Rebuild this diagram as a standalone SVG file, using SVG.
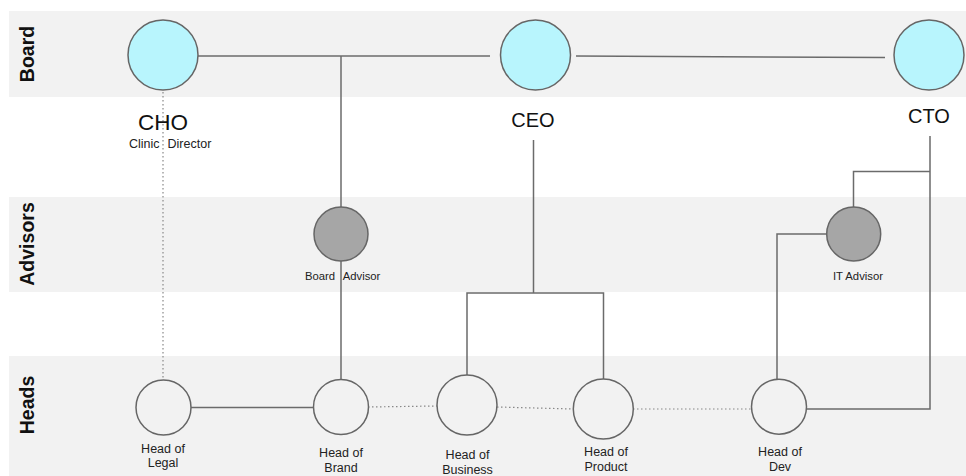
<svg xmlns="http://www.w3.org/2000/svg" width="966" height="476" viewBox="0 0 966 476">
  <style>
    .band { fill: #f2f2f2; }
    .lane { font-family: "Liberation Sans", Arial, sans-serif; font-weight: bold; font-size: 19.5px; fill: #111; text-anchor: middle; }
    .board { fill: #b8f5fd; stroke: #666; stroke-width: 1.5; }
    .advisor { fill: #a6a6a6; stroke: #666; stroke-width: 1.5; }
    .head { fill: #f2f2f2; stroke: #666; stroke-width: 1.5; }
    .link { fill: none; stroke: #6b6b6b; stroke-width: 1.5; }
    .dot { fill: none; stroke: #888; stroke-width: 1.2; stroke-dasharray: 1.5 2.5; }
    .big { font-family: "Liberation Sans", Arial, sans-serif; font-size: 20px; fill: #111; text-anchor: middle; }
    .small { font-family: "Liberation Sans", Arial, sans-serif; font-size: 11.3px; fill: #222; }
    .lbl { font-family: "Liberation Sans", Arial, sans-serif; font-size: 12.5px; fill: #222; text-anchor: middle; }
  </style>

  <!-- swim lanes -->
  <g id="lanes">
    <rect class="band" x="9" y="11" width="957" height="86"/>
    <rect class="band" x="9" y="197" width="957" height="95"/>
    <rect class="band" x="9" y="356" width="957" height="120"/>
    <text class="lane" transform="translate(34 54) rotate(-90)">Board</text>
    <text class="lane" transform="translate(34 244) rotate(-90)">Advisors</text>
    <text class="lane" transform="translate(34 405) rotate(-90)">Heads</text>
  </g>

  <!-- connectors -->
  <g id="connectors">
    <line class="link" x1="198" y1="56" x2="490" y2="56"/>
    <line class="link" x1="576" y1="56" x2="885" y2="57.5"/>
    <path class="link" d="M341 56 V207"/>
    <path class="link" d="M341 261 V379"/>
    <path class="link" d="M533.5 140 V293 M467 375 V293 H603.5 V379"/>
    <path class="link" d="M930 136 V409 H806"/>
    <path class="link" d="M930 171.5 H853.5 V207"/>
    <path class="link" d="M827 234 H777 V379"/>
    <line class="dot" x1="163" y1="92" x2="163" y2="380"/>
    <line class="link" x1="191" y1="407.5" x2="313" y2="407.5"/>
    <line class="dot" x1="368" y1="407" x2="437" y2="406"/>
    <line class="dot" x1="497" y1="407" x2="573" y2="409"/>
    <line class="dot" x1="633" y1="409" x2="752" y2="409"/>
  </g>

  <!-- board -->
  <g id="cho">
    <circle class="board" cx="163" cy="55" r="35"/>
    <text class="big" x="163" y="130" style="font-size:22.5px">CHO</text>
    <text class="small" x="129" y="147.5" style="font-size:12.5px" word-spacing="4.5">Clinic Director</text>
  </g>
  <g id="ceo">
    <circle class="board" cx="535.5" cy="55" r="35"/>
    <text class="big" x="533" y="127">CEO</text>
  </g>
  <g id="cto">
    <circle class="board" cx="929" cy="55" r="35"/>
    <text class="big" x="929" y="123">CTO</text>
  </g>

  <!-- advisors -->
  <g id="board-advisor">
    <circle class="advisor" cx="341" cy="234" r="27"/>
    <text class="small" x="305" y="280" word-spacing="5">Board Advisor</text>
  </g>
  <g id="it-advisor">
    <circle class="advisor" cx="853.7" cy="234" r="27"/>
    <text class="small" x="858" y="280" text-anchor="middle">IT Advisor</text>
  </g>

  <!-- heads -->
  <g id="head-legal">
    <circle class="head" cx="163.5" cy="407.5" r="27.5"/>
    <text class="lbl" x="163" y="453">Head of</text>
    <text class="lbl" x="163" y="467">Legal</text>
  </g>
  <g id="head-brand">
    <circle class="head" cx="341" cy="407" r="27.5"/>
    <text class="lbl" x="341" y="457">Head of</text>
    <text class="lbl" x="341" y="472">Brand</text>
  </g>
  <g id="head-business">
    <circle class="head" cx="467" cy="405" r="30"/>
    <text class="lbl" x="467.5" y="459">Head of</text>
    <text class="lbl" x="467.5" y="474">Business</text>
  </g>
  <g id="head-product">
    <circle class="head" cx="603.3" cy="409" r="30"/>
    <text class="lbl" x="606" y="456">Head of</text>
    <text class="lbl" x="606" y="471">Product</text>
  </g>
  <g id="head-dev">
    <circle class="head" cx="779" cy="406.7" r="27.5"/>
    <text class="lbl" x="780" y="456">Head of</text>
    <text class="lbl" x="780" y="471">Dev</text>
  </g>
</svg>
